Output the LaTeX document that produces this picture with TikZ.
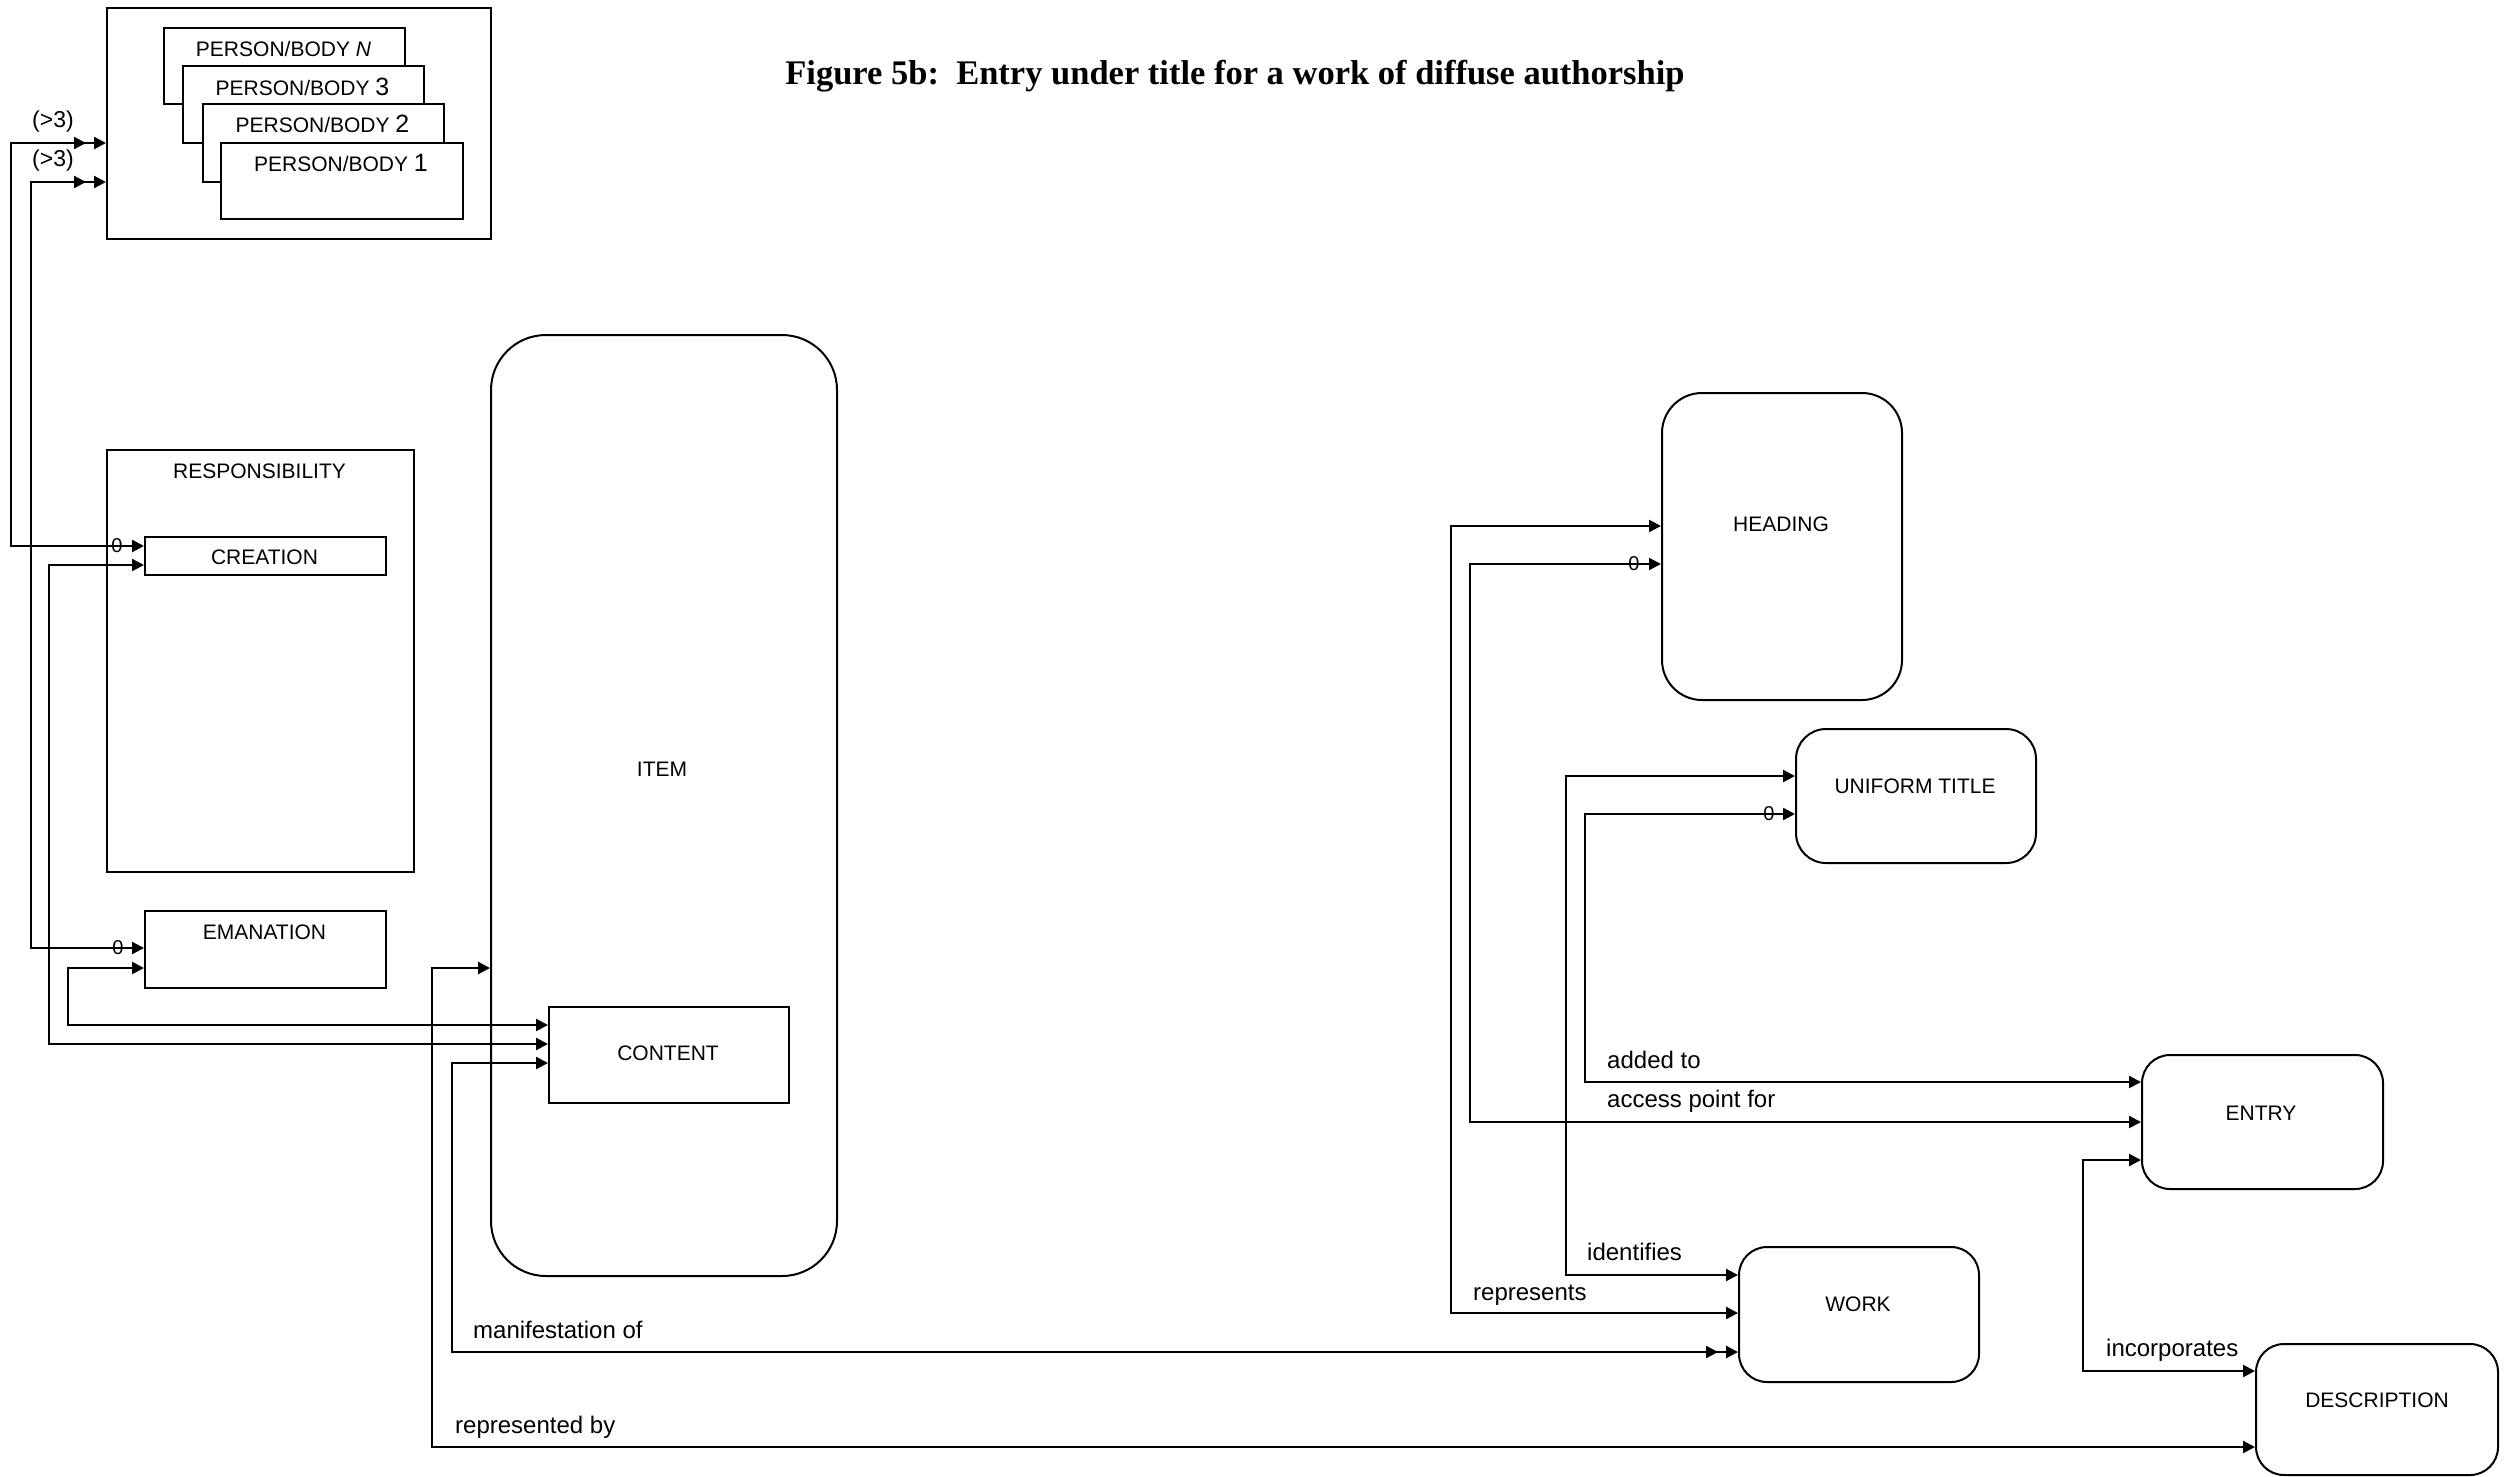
\documentclass[tikz,border=0pt]{standalone}
\usepackage{fontspec}
\setmainfont{Liberation Sans}
\newfontfamily\titlefont{Liberation Serif}
\usetikzlibrary{arrows.meta,decorations.markings}
\begin{document}
\begin{tikzpicture}[x=1pt,y=-1pt,
  >={Triangle[length=12pt,width=12pt]},
  box/.style={draw,line width=2.3pt,fill=white,inner sep=0pt,anchor=north west},
  rbox/.style={box,line width=2pt,rounded corners=#1},
  boxtxt/.style={font=\fontsize{21}{25}\selectfont,inner sep=0pt},
  reltxt/.style={font=\fontsize{24}{28}\selectfont,inner sep=0pt,anchor=base west},
  zero/.style={font=\fontsize{20}{24}\selectfont,inner sep=0pt},
  card/.style={font=\fontsize{23}{27}\selectfont,inner sep=0pt},
  conn/.style={line width=2.3pt,<->},
  dbl/.style={postaction={decorate,decoration={markings,mark=at position -20pt with {\arrow{Triangle[length=12pt,width=12pt]}}}}}
]
\useasboundingbox (0,0) rectangle (2507,1476);

% title
\node[font=\titlefont\bfseries\fontsize{34.5}{40}\selectfont,inner sep=0pt,anchor=base] (title) at (1235,84) {Figure 5b:\ \ Entry under title for a work of diffuse authorship};

% person/body group
\node[box,minimum width=384pt,minimum height=231pt] (pbg) at (106,7) {};
\node[box,minimum width=241pt,minimum height=76pt] (pbN) at (163,27) {};
\node[boxtxt] (tpbN) at (283.5,49) {PERSON/BODY \textit{N}};
\node[box,minimum width=241pt,minimum height=77pt] (pb3) at (182,65) {};
\node[boxtxt] (tpb3) at (302.5,87) {PERSON/BODY {\fontsize{25}{25}\selectfont 3}};
\node[box,minimum width=241pt,minimum height=78pt] (pb2) at (202,103) {};
\node[boxtxt] (tpb2) at (322.5,124) {PERSON/BODY {\fontsize{25}{25}\selectfont 2}};
\node[box,minimum width=242pt,minimum height=76pt] (pb1) at (220,142) {};
\node[boxtxt] (tpb1) at (341,163) {PERSON/BODY {\fontsize{25}{25}\selectfont 1}};

% responsibility
\node[box,minimum width=307pt,minimum height=422pt] (resp) at (106,449) {};
\node[boxtxt] (tresp) at (259.5,471) {RESPONSIBILITY};
\node[box,minimum width=241pt,minimum height=38pt] (creation) at (144,536) {};
\node[boxtxt] (tcreation) at (264.5,557) {CREATION};
\node[box,minimum width=241pt,minimum height=77pt] (emanation) at (144,910) {};
\node[boxtxt] (temanation) at (264.5,932) {EMANATION};

% item / content
\node[rbox=55pt,minimum width=346pt,minimum height=941pt] (item) at (490,334) {};
\node[boxtxt] (titem) at (662,769) {ITEM};
\node[box,minimum width=240pt,minimum height=96pt] (content) at (548,1006) {};
\node[boxtxt] (tcontent) at (668,1053) {CONTENT};

% right side
\node[rbox=40pt,minimum width=240pt,minimum height=307pt] (heading) at (1661,392) {};
\node[boxtxt] (theading) at (1781,524) {HEADING};
\node[rbox=30pt,minimum width=240pt,minimum height=134pt] (ut) at (1795,728) {};
\node[boxtxt] (tut) at (1915,786) {UNIFORM TITLE};
\node[rbox=28pt,minimum width=241pt,minimum height=134pt] (entry) at (2141,1054) {};
\node[boxtxt] (tentry) at (2261,1113) {ENTRY};
\node[rbox=28pt,minimum width=240pt,minimum height=135pt] (work) at (1738,1246) {};
\node[boxtxt] (twork) at (1858,1304) {WORK};
\node[rbox=28pt,minimum width=242pt,minimum height=131pt] (description) at (2255,1343) {};
\node[boxtxt] (tdescription) at (2377,1400) {DESCRIPTION};

% connectors left
\draw[conn,dbl] (creation.west|-0,546) -| (11,143) -- (pbg.west|-0,143);
\draw[conn,dbl] (emanation.west|-0,948) -| (31,182) -- (pbg.west|-0,182);
\draw[conn] (creation.west|-0,565) -| (49,1044) -- (content.west|-0,1044);
\draw[conn] (emanation.west|-0,968) -| (68,1025) -- (content.west|-0,1025);
\draw[conn] (item.west|-0,968) -| (432,1447) -- (description.west|-0,1447);
\draw[conn,dbl] (content.west|-0,1063) -| (452,1352) -- (work.west|-0,1352);

% connectors right
\draw[conn] (heading.west|-0,526) -| (1451,1313) -- (work.west|-0,1313);
\draw[conn] (heading.west|-0,564) -| (1470,1122) -- (entry.west|-0,1122);
\draw[conn] (ut.west|-0,776) -| (1566,1275) -- (work.west|-0,1275);
\draw[conn] (ut.west|-0,814) -| (1585,1082) -- (entry.west|-0,1082);
\draw[conn] (entry.west|-0,1160) -| (2083,1371) -- (description.west|-0,1371);

% cardinalities
\node[card] (c1) at (53,122) {(>3)};
\node[card] (c2) at (53,161) {(>3)};
\node[zero] (z1) at (117,546) {0};
\node[zero] (z2) at (118,948) {0};
\node[zero] (z3) at (1634,564) {0};
\node[zero] (z4) at (1769,814) {0};

% relationship labels
\node[reltxt] (lmanif) at (473,1338) {manifestation of};
\node[reltxt] (lrepby) at (455,1433) {represented by};
\node[reltxt] (ladded) at (1607,1068) {added to};
\node[reltxt] (laccess) at (1607,1107) {access point for};
\node[reltxt] (lident) at (1587,1260) {identifies};
\node[reltxt] (lrepr) at (1473,1300) {represents};
\node[reltxt] (lincorp) at (2106,1356) {incorporates};
\end{tikzpicture}
\end{document}
